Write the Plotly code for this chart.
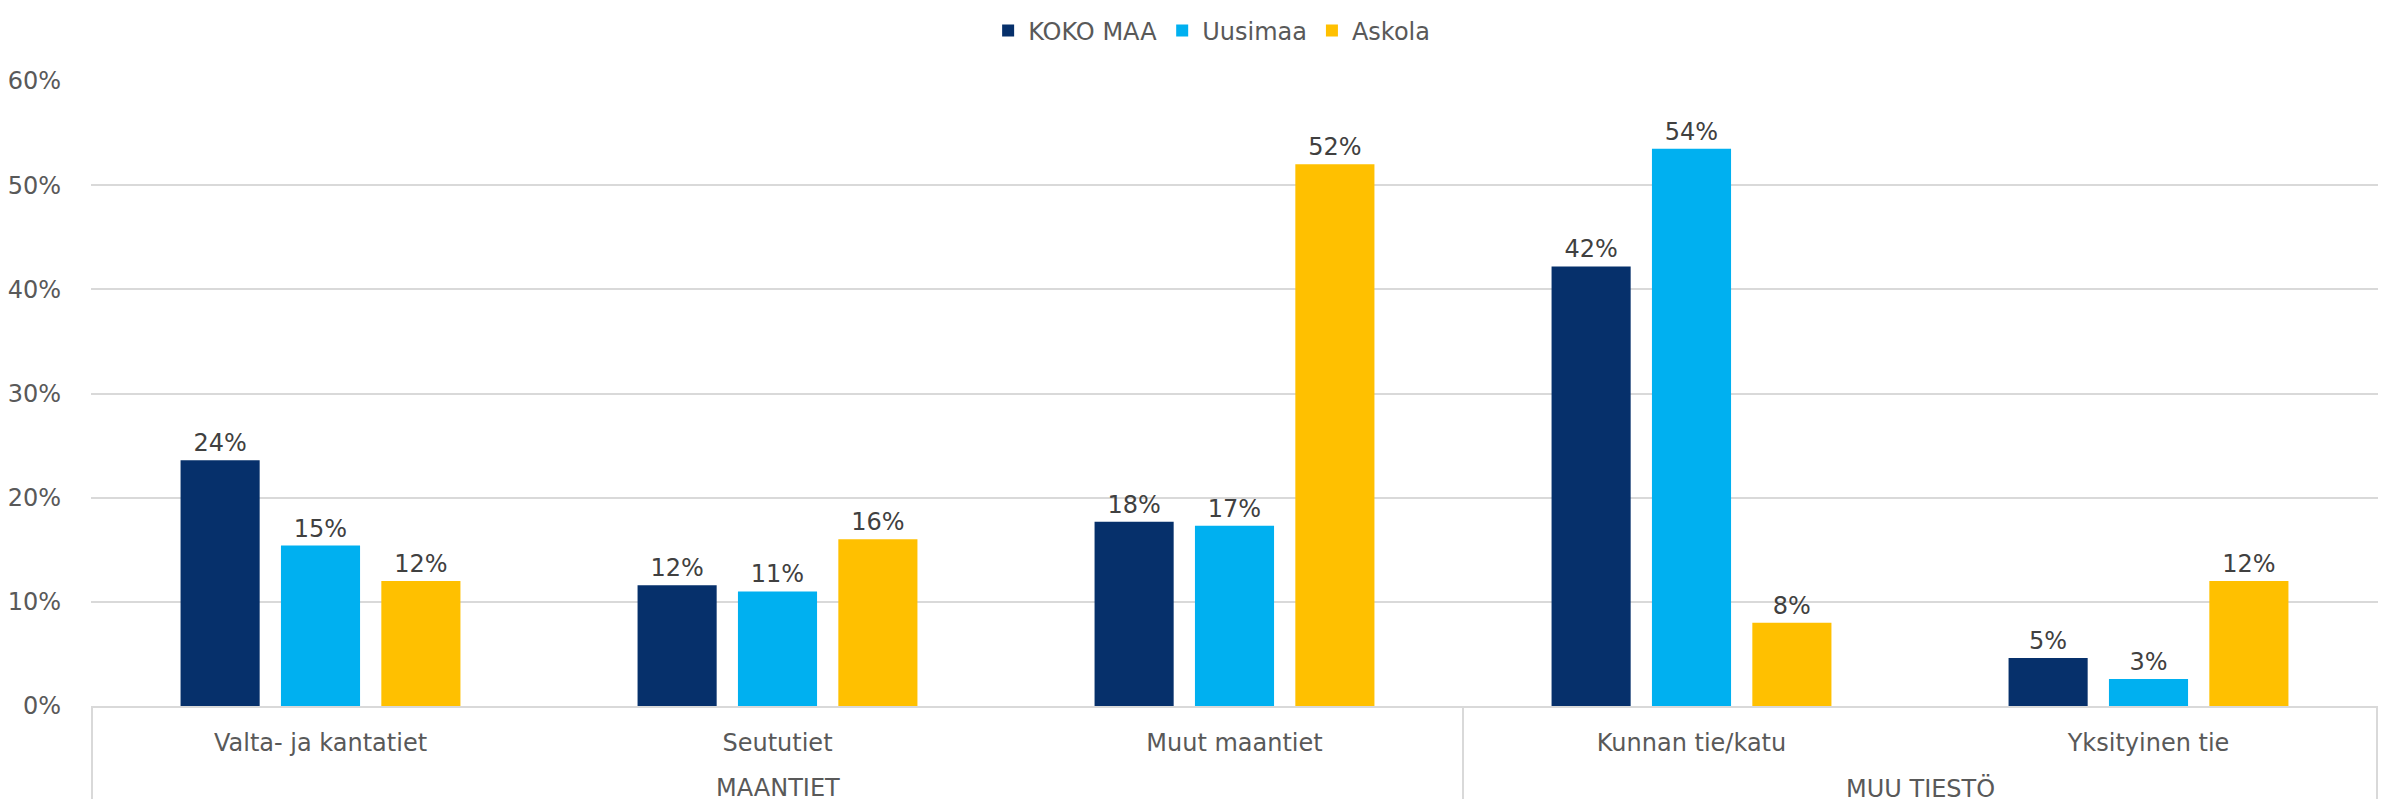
import plotly.graph_objs as go

categories = ["Valta- ja kantatiet", "Seututiet", "Muut maantiet", "Kunnan tie/katu", "Yksityinen tie"]
group_names = ["MAANTIET", "MUU TIESTÖ"]
group_sizes = [3, 2]

koko_maa = [0.236, 0.116, 0.177, 0.422, 0.046]
uusimaa = [0.154, 0.110, 0.173, 0.535, 0.026]
askola = [0.120, 0.160, 0.520, 0.080, 0.120]

series_names = ["KOKO MAA", "Uusimaa", "Askola"]
series_colors = ["#06306B", "#00B0F0", "#FFC000"]

fnt = "DejaVu Sans, Verdana, sans-serif"
grey = "#595959"
line_grey = "#D9D9D9"

fig = go.Figure()
for name, vals, col in zip(series_names, [koko_maa, uusimaa, askola], series_colors):
    fig.add_trace(go.Bar(
        x=categories, y=vals, name=name,
        marker=dict(color=col, line=dict(width=0)),
        texttemplate="%{y:.0%}", textposition="outside", cliponaxis=False,
        textfont=dict(family=fnt, size=24, color="#404040"),
    ))

# group labels and dividers below the category axis
start = 0
bounds = [-0.5]
for gname, n in zip(group_names, group_sizes):
    mid = start + (n - 1) / 2
    fig.add_annotation(x=mid, xref="x", y=0, yref="paper", yanchor="middle", yshift=-82,
                       text=gname, showarrow=False, font=dict(family=fnt, size=24, color=grey))
    start += n
    bounds.append(start - 0.5)
for b in bounds:
    fig.add_shape(type="line", xref="x", yref="paper", x0=b, x1=b, y0=0, y1=-0.2,
                  line=dict(color=line_grey, width=2))

fig.update_layout(
    width=2387, height=799,
    barmode="group", bargap=0.341, bargroupgap=0.212,
    plot_bgcolor="white", paper_bgcolor="white",
    margin=dict(l=91, r=9, t=72, b=93),
    font=dict(family=fnt, size=24, color=grey),
    legend=dict(orientation="h", x=0.49, xanchor="center", yref="paper", y=1.08, yanchor="middle",
                font=dict(family=fnt, size=24, color=grey), itemwidth=30, traceorder="normal"),
    showlegend=True,
)
fig.update_yaxes(range=[0, 0.6], dtick=0.1, tickformat=".0%", showgrid=True,
                 gridcolor=line_grey, gridwidth=2, zeroline=False, ticks="",
                 ticklabelstandoff=29, tickfont=dict(family=fnt, size=24, color=grey))
fig.update_xaxes(showline=True, linecolor=line_grey, linewidth=2, ticks="",
                 ticklabelstandoff=14, tickfont=dict(family=fnt, size=24, color=grey))

fig.write_html("out.html", config={"displayModeBar": False},
               post_script="document.body.style.margin='0';")
